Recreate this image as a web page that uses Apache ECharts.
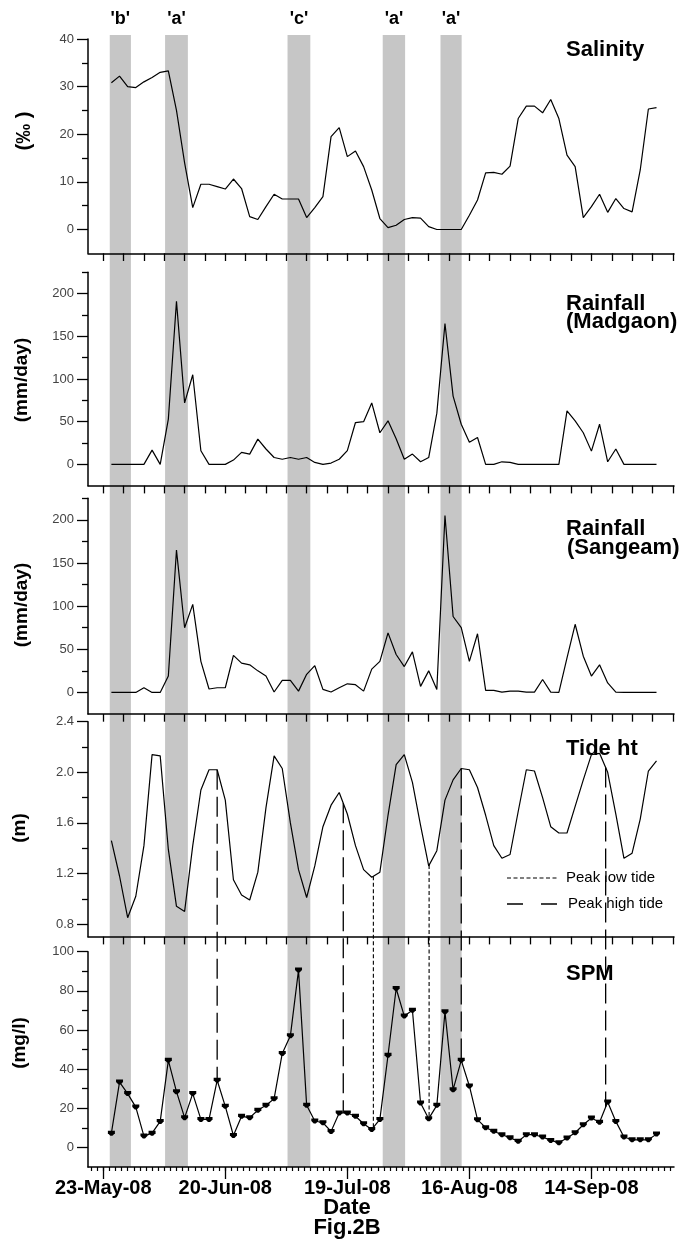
<!DOCTYPE html>
<html><head><meta charset="utf-8">
<script src="https://cdn.jsdelivr.net/npm/echarts@6/dist/echarts.min.js"></script>
<style>html,body{margin:0;padding:0;background:#fff}#c{width:691px;height:1245px}</style>
</head><body><div id="c"></div>
<script>
// ---- data (x = days after 23-May-08) ----
const sampleDays = [2,4,6,8,10,12,14,16,18,20,22,24,26,28,30,32,34,36,38,40,42,44,46,48,50,52,54,56,58,60,62,64,66,68,70,72,74,76,78,80,82,84,86,88,90,92,94,96,98,100,102,104,106,108,110,112,114,116,118,120,122,124,126,128,130,132,134,136];
const salinity = [30.8,32.2,30.0,29.8,31.0,31.9,33.0,33.3,25.0,14.0,
 4.6,9.5,9.5,9.0,8.5,10.6,8.6,2.7,2.1,4.8,
 7.4,6.4,6.4,6.4,2.5,4.6,6.9,19.5,21.4,15.3,
 16.5,13.2,8.3,2.3,0.4,0.9,2.1,2.5,2.4,0.6,
 0,0,0,0,3.0,6.2,11.9,12.0,11.6,13.3,
 23.3,25.9,25.9,24.5,27.3,23.3,15.6,13.2,2.5,4.8,
 7.4,3.6,6.5,4.4,3.7,12.5,25.3,25.6];
const rainMadgaon = [0,0,0,0,0,16.7,0,53,191,72,
 105,16,0,0,0,5,14,12,29.6,18,
 8,6,8,6,8,2.3,0,1.5,6,16,
 49,50,72,37,51,30,6,12,3,8,
 60,165,80,47,26,31.5,0,0,3,2.3,
 0,0,0,0,0,0,62.6,51,37,15.5,
 47,3,18,0,0,0,0,0];
const rainSangeam = [0,0,0,0,5.5,0,0,19,165,75,
 102,36,4,5.4,5.4,43,34,32,25,19,
 0.5,14,14,1.5,21,31,3.5,0.5,5.4,10,
 9,1.5,27,36,69,44,30,47,7,25,
 3.5,205,88,75,36,68,2.3,2.3,0.4,1.5,
 1.5,0.4,0.4,15,0.4,0,40,79,42,19,
 32,11,0.4,0,0,0,0,0];
const tideHeight = [1.46,1.18,0.85,1.02,1.42,2.14,2.13,1.39,0.94,0.90,
 1.42,1.86,2.02,2.02,1.78,1.15,1.03,0.99,1.21,1.72,
 2.13,2.03,1.60,1.23,1.01,1.26,1.57,1.74,1.84,1.67,
 1.42,1.23,1.17,1.21,1.66,2.06,2.14,1.92,1.58,1.26,
 1.38,1.78,1.94,2.03,2.02,1.88,1.66,1.42,1.32,1.35,
 1.69,2.02,2.01,1.80,1.57,1.52,1.52,1.73,1.94,2.14,
 2.15,2.00,1.67,1.32,1.36,1.63,2.01,2.09];
const spm = [7.3,33.4,27.5,20.6,5.8,7.3,13.3,44.5,28.5,15.2,
 27.5,14.3,14.3,34.3,21.0,6.1,15.9,15.2,19.0,21.5,
 24.9,48.0,57.0,90.6,21.5,13.5,12.6,8.2,17.6,17.6,
 15.9,12.1,9.2,14.3,47.1,81.2,67.1,70.1,22.7,14.7,
 21.5,69.3,29.5,44.5,31.4,14.2,10.1,8.3,6.5,5.0,
 3.1,6.5,6.5,5.3,3.6,2.4,4.8,7.5,11.6,15.0,
 12.9,23.2,13.3,5.3,3.9,3.9,3.9,6.8];
const dateTickDays = [0,30,60,90,120];
const dateTickLabels = ['23-May-08','20-Jun-08','19-Jul-08','16-Aug-08','14-Sep-08'];
const bandRanges = [[1.6,6.8],[15.2,20.8],[45.3,50.9],[68.7,74.2],[82.9,88.1]];
const bandLabels = ["'b'","'a'","'c'","'a'","'a'"];
const peakLowTideDays = [66.4, 80.1];
const peakHighTideDays = [28, 59, 88, 123.5];
const salinityTicks = [0,10,20,30,40];
const rainTicks = [0,50,100,150,200];
const tideTicks = [0.8,1.2,1.6,2.0,2.4];
const spmTicks = [0,20,40,60,80,100];

// ---- layout ----
const FONT = '"Liberation Sans", Arial, Helvetica, sans-serif';
const X_MIN = -3.75, X_MAX = 140.3, LEFT = 88, WIDTH = 586;
function seq(a,b,s){const r=[];for(let v=a;v<=b+1e-9;v+=s)r.push(Math.round(v*1000)/1000);return r;}
const panels = [
 {top:39, height:214.3, min:-5, max:40, major:salinityTicks, minor:[5,15,25,35], data:salinity, fmt:v=>String(v)},
 {top:272.3, height:213.4, min:-25, max:225, major:rainTicks, minor:[25,75,125,175,225], data:rainMadgaon, fmt:v=>String(v)},
 {top:498.3, height:215.7, min:-25, max:225, major:rainTicks, minor:[25,75,125,175,225], data:rainSangeam, fmt:v=>String(v)},
 {top:721.7, height:215, min:0.7, max:2.4, major:tideTicks, minor:[1.0,1.4,1.8,2.2], data:tideHeight, fmt:v=>v.toFixed(1)},
 {top:951.7, height:215.3, min:-10, max:100, major:spmTicks, minor:[10,30,50,70,90], data:spm, fmt:v=>String(v), marker:true}
];
const AX = {color:'#000', width:1.5};
const grid=[], xAxis=[], yAxis=[], series=[];
panels.forEach((p,i)=>{
  grid.push({left:LEFT, top:p.top, width:WIDTH, height:p.height});
  const bottom = i===4;
  xAxis.push({type:'value', gridIndex:i, min:X_MIN, max:X_MAX, position:'bottom',
    axisLine:{show:true, onZero:false, lineStyle:AX},
    axisTick:{show:true, customValues: bottom?dateTickDays:seq(0,140,5), length: bottom?12:7.7, lineStyle:{color:'#000',width:1.3}},
    axisLabel: bottom ? {show:true, customValues:dateTickDays, margin:11, color:'#000', fontSize:20, fontWeight:'bold', fontFamily:FONT,
        formatter:(v)=>{const k=dateTickDays.indexOf(v);return k>=0?dateTickLabels[k]:'';}} : {show:false},
    splitLine:{show:false}});
  yAxis.push({type:'value', gridIndex:i, min:p.min, max:p.max, position:'left',
    axisLine:{show:true, onZero:false, lineStyle:AX},
    axisTick:{show:true, customValues:p.major, length:11, lineStyle:{color:'#000',width:1.3}},
    axisLabel:{show:true, customValues:p.major, margin:14, color:'#444', fontSize:13, fontFamily:FONT, formatter:p.fmt},
    splitLine:{show:false}});
  yAxis.push({type:'value', gridIndex:i, min:p.min, max:p.max, position:'left',
    axisLine:{show:false, onZero:false}, axisTick:{show:true, customValues:p.minor, length:6, lineStyle:{color:'#000',width:1.3}},
    axisLabel:{show:false}, splitLine:{show:false}});
  series.push({type:'line', xAxisIndex:i, yAxisIndex:2*i, z:5,
    data: sampleDays.map((d,k)=>[d,p.data[k]]),
    showSymbol: !!p.marker, symbol: p.marker?'path://M0,0L10,0L10,4L6.5,8L3.5,8L0,4Z':'none',
    symbolSize:[7,5], itemStyle:{color:'#000'},
    lineStyle:{color:'#000', width:1.2}, animation:false, silent:true});
});
// bottom minor ticks
xAxis.push({type:'value', gridIndex:4, min:X_MIN, max:X_MAX, position:'bottom',
  axisLine:{show:false, onZero:false}, axisTick:{show:true, customValues:seq(-3,139.5,1.5), length:4, lineStyle:{color:'#000',width:1.2}},
  axisLabel:{show:false}, splitLine:{show:false}});
// band overlay grid
grid.push({left:LEFT, top:35, width:WIDTH, height:1132});
xAxis.push({type:'value', gridIndex:5, min:X_MIN, max:X_MAX, show:false});
yAxis.push({type:'value', gridIndex:5, min:0, max:1, show:false});
series.push({type:'line', xAxisIndex:6, yAxisIndex:10, data:[], z:-5, silent:true, animation:false,
  markArea:{silent:true, z:-5, itemStyle:{color:'#c6c6c6'},
    label:{show:true, position:'top', distance:7, color:'#000', fontSize:18, fontWeight:'bold', fontFamily:FONT},
    data: bandRanges.map((r,k)=>[{xAxis:r[0], name:bandLabels[k]},{xAxis:r[1]}])}});

const chart = echarts.init(document.getElementById('c'), null, {renderer:'canvas'});
chart.setOption({animation:false, backgroundColor:'#fff', grid, xAxis, yAxis, series});

// ---- texts & peak tide lines ----
function interp(vals, d){
  for(let k=0;k<sampleDays.length-1;k++){
    if(d>=sampleDays[k] && d<=sampleDays[k+1]){const t=(d-sampleDays[k])/(sampleDays[k+1]-sampleDays[k]);return vals[k]+(vals[k+1]-vals[k])*t;}
  }
  return vals[vals.length-1];
}
const g = [];
function txt(t,x,y,size,bold,align,rot){
  g.push({type:'text', x, y, rotation:rot||0, z:20,
    style:{text:t, fill:'#000', font:(bold?'bold ':'')+size+'px '+FONT, textAlign:align||'left', textVerticalAlign:'middle'}});
}
txt('Salinity',566,50,22,true);
txt('Rainfall',566,304,22,true); txt('(Madgaon)',566,322,22,true);
txt('Rainfall',566,529,22,true); txt('(Sangeam)',567,548,22,true);
txt('Tide ht',566,749,22,true);
txt('SPM',566,974,22,true);
txt('(‰ )',24,131,20,true,'center',Math.PI/2);
txt('(mm/day)',22,380,19,true,'center',Math.PI/2);
txt('(mm/day)',22,605,19,true,'center',Math.PI/2);
txt('(m)',20,828,19,true,'center',Math.PI/2);
txt('(mg/l)',20,1043,19,true,'center',Math.PI/2);
txt('Date',347,1208,22,true,'center');
txt('Fig.2B',347,1228,22,true,'center');
txt('Peak low tide',566,878,15,false);
txt('Peak high tide',568,904,15,false);
g.push({type:'line', z:20, shape:{x1:507,y1:878,x2:559,y2:878}, style:{stroke:'#000', lineWidth:1.2, lineDash:[4,2.5]}});
g.push({type:'line', z:20, shape:{x1:507,y1:904,x2:559,y2:904}, style:{stroke:'#000', lineWidth:1.3, lineDash:[16,18]}});
function vline(d, dash, w){
  const a = chart.convertToPixel({xAxisIndex:3, yAxisIndex:6}, [d, interp(tideHeight,d)]);
  const b = chart.convertToPixel({xAxisIndex:4, yAxisIndex:8}, [d, interp(spm,d)]);
  g.push({type:'line', z:15, shape:{x1:a[0],y1:a[1],x2:b[0],y2:b[1]}, style:{stroke:'#000', lineWidth:w, lineDash:dash}});
}
peakLowTideDays.forEach(d=>vline(d,[4,2.5],1.1));
peakHighTideDays.forEach(d=>vline(d,[20,7],1.3));
chart.setOption({graphic:g});
</script></body></html>
